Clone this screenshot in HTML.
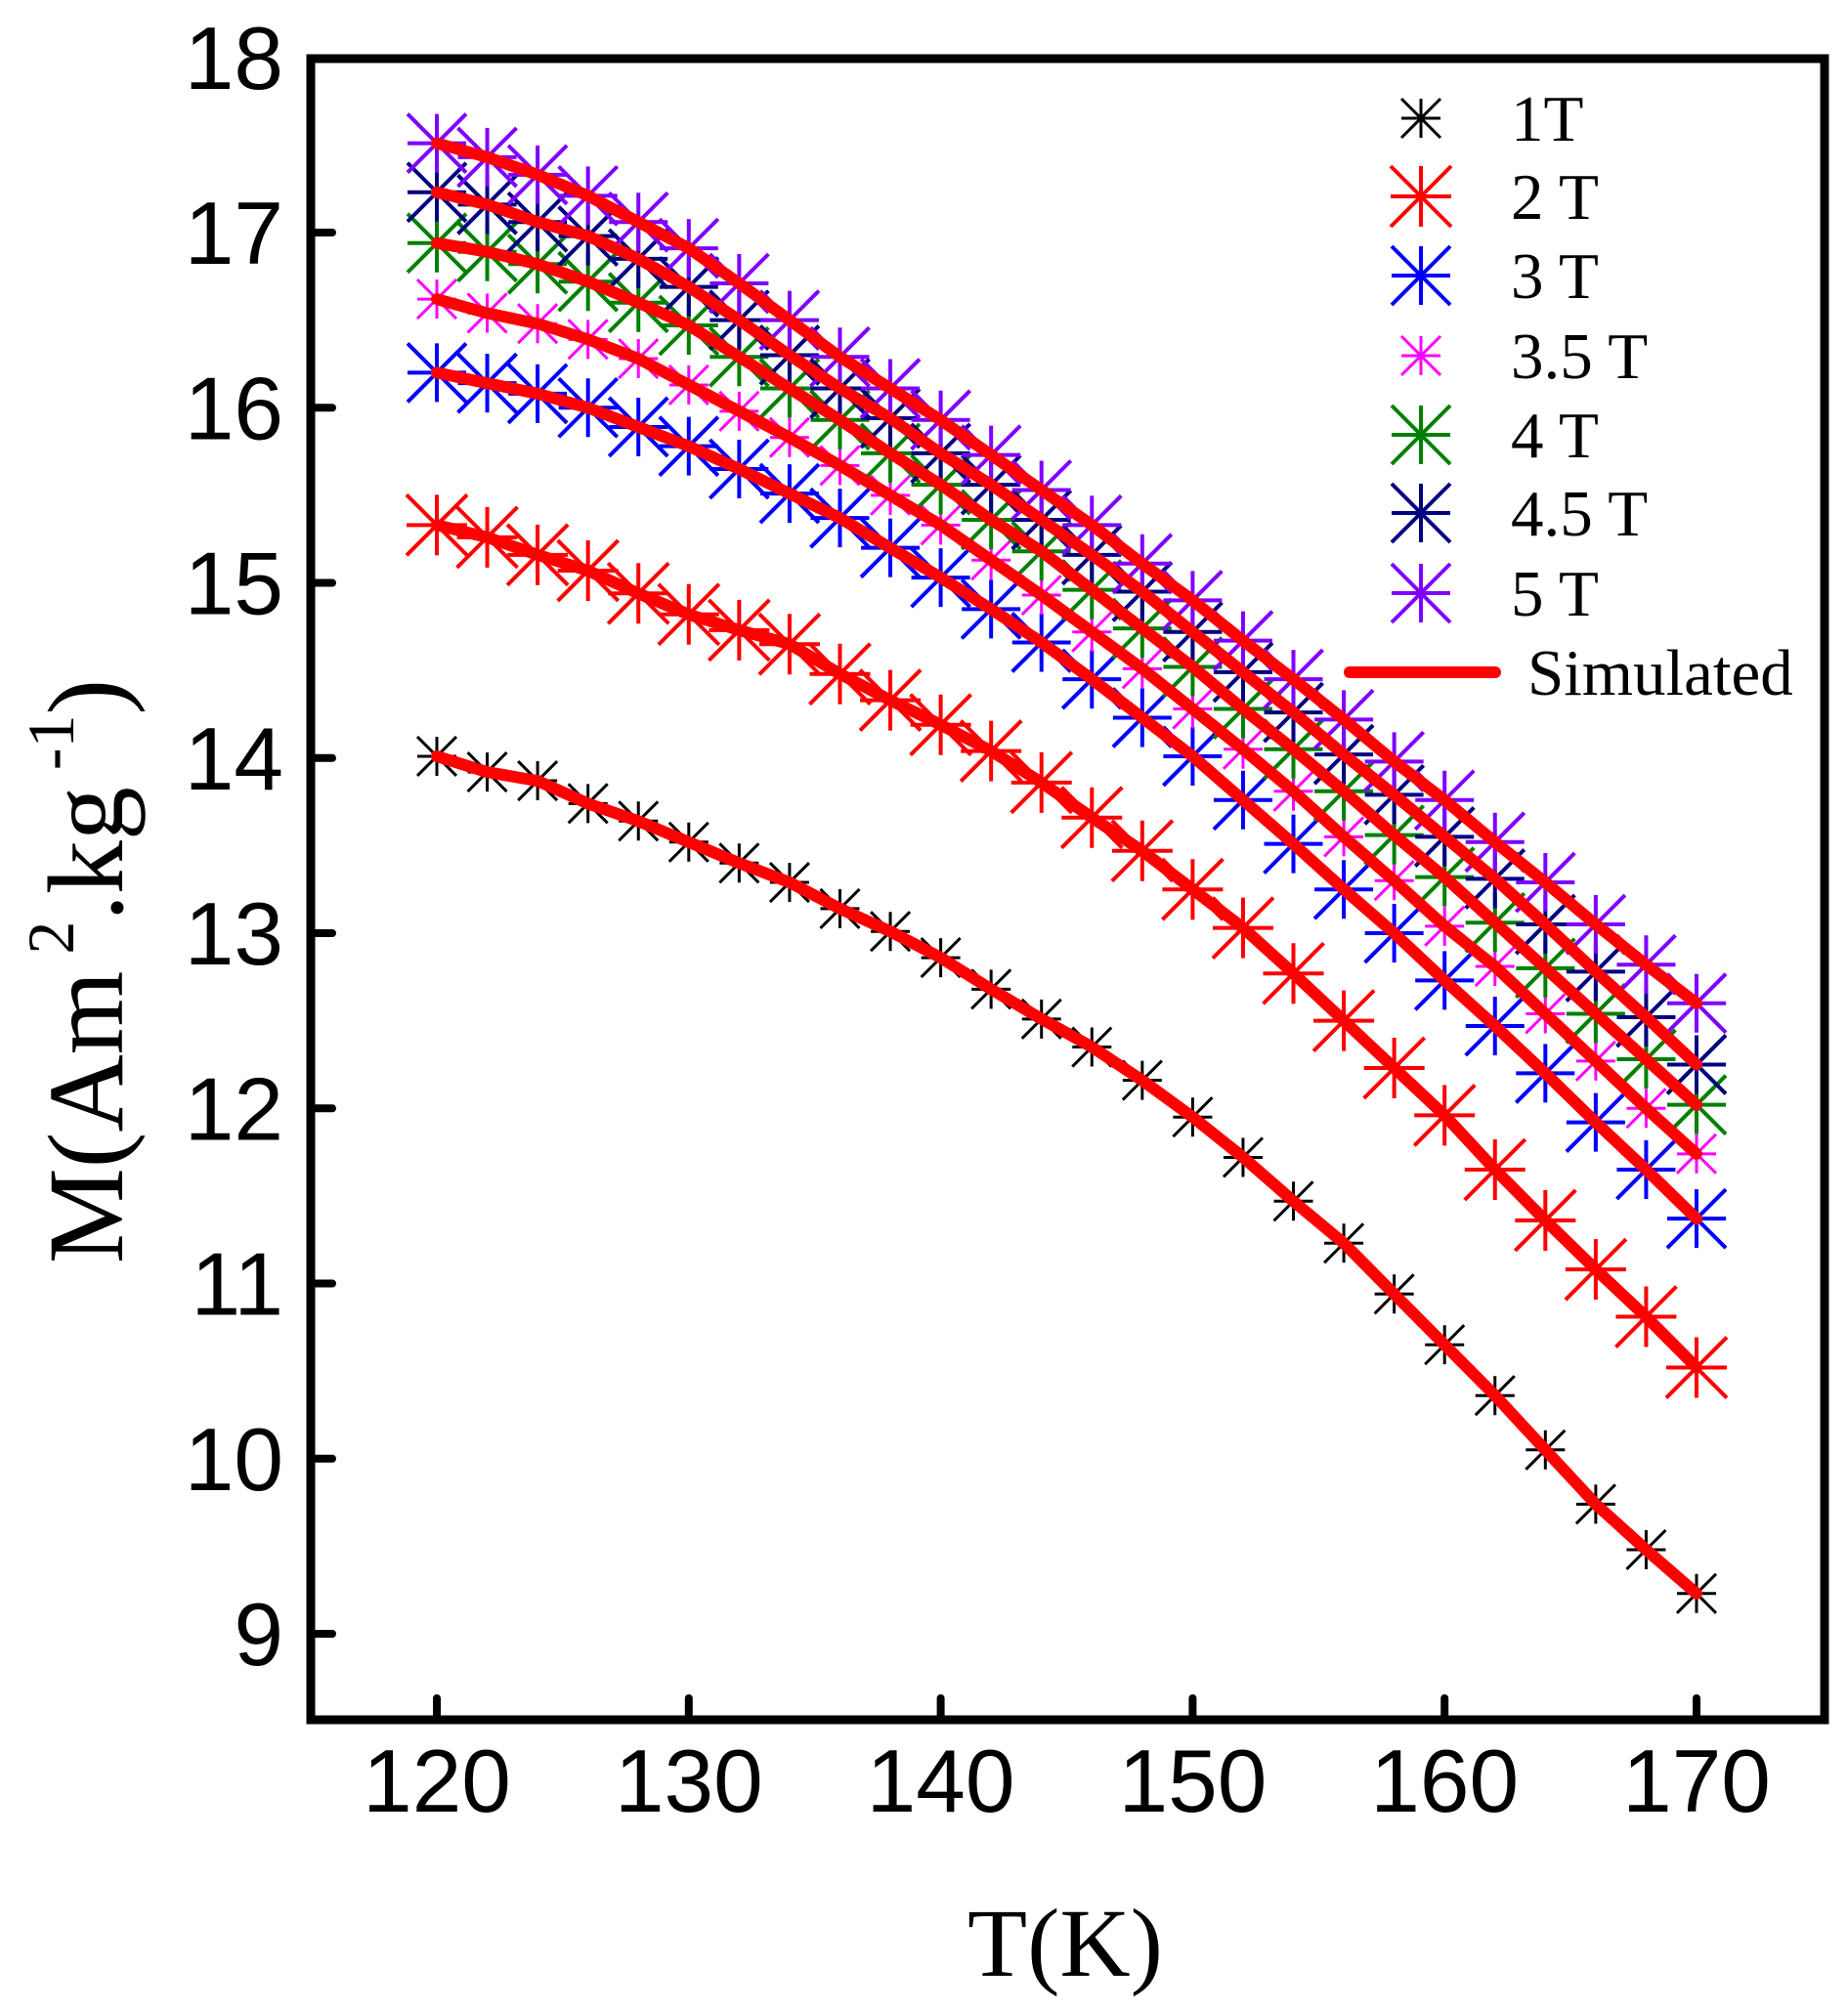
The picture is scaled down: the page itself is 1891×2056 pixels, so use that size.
<!DOCTYPE html>
<html><head><meta charset="utf-8"><style>
html,body{margin:0;padding:0;background:#fff;}
svg{display:block;}
</style></head><body>
<svg id="chart" width="1891" height="2056" viewBox="0 0 1891 2056" xmlns="http://www.w3.org/2000/svg">
<rect width="1891" height="2056" fill="#fff"/>
<g id="markers"></g>
<g id="lines"></g>
<g id="axes"></g>
<g id="legend"></g>
<text x="1090" y="2022" font-family="Liberation Serif, serif" font-size="100" text-anchor="middle">T(K)</text>
<text transform="translate(125,994) rotate(-90)" font-family="Liberation Serif, serif" font-size="110" text-anchor="middle">M(Am<tspan dy="-50" font-size="68"> 2</tspan><tspan dy="50">.kg</tspan><tspan dy="-50" font-size="68"> -1</tspan><tspan dy="50">)</tspan></text>
</svg>
<script>
const temps=[120,122,124,126,128,130,132,134,136,138,140,142,144,146,148,150,152,154,156,158,160,162,164,166,168,170];
const m1T=[14.01,13.92,13.87,13.74,13.64,13.52,13.40,13.29,13.14,13.01,12.86,12.68,12.51,12.35,12.16,11.95,11.72,11.47,11.23,10.94,10.65,10.36,10.05,9.74,9.48,9.23];
const m2T=[15.33,15.26,15.16,15.07,14.94,14.82,14.73,14.65,14.48,14.33,14.19,14.04,13.86,13.66,13.47,13.25,13.03,12.77,12.50,12.23,11.96,11.65,11.36,11.08,10.81,10.52];
const m3T=[16.2,16.14,16.08,16.00,15.89,15.78,15.65,15.51,15.37,15.20,15.03,14.85,14.66,14.45,14.23,14.01,13.76,13.51,13.25,13.00,12.73,12.47,12.20,11.92,11.65,11.37];
const m35T=[16.62,16.54,16.48,16.39,16.28,16.13,15.98,15.83,15.67,15.50,15.33,15.13,14.93,14.72,14.51,14.28,14.05,13.81,13.55,13.30,13.04,12.81,12.54,12.27,12.00,11.74];
const m4T=[16.94,16.89,16.82,16.72,16.60,16.47,16.29,16.11,15.93,15.74,15.56,15.36,15.18,14.96,14.74,14.52,14.28,14.05,13.81,13.56,13.32,13.06,12.80,12.54,12.28,12.02];
const m45T=[17.23,17.16,17.06,16.98,16.85,16.69,16.50,16.30,16.11,15.94,15.74,15.56,15.36,15.16,14.95,14.72,14.49,14.26,14.02,13.79,13.55,13.31,13.05,12.78,12.52,12.25];
const m5T=[17.51,17.43,17.33,17.21,17.06,16.91,16.71,16.50,16.29,16.11,15.93,15.73,15.53,15.33,15.11,14.90,14.67,14.45,14.22,13.98,13.76,13.52,13.29,13.05,12.82,12.60];
const seriesNames=["1T","2 T","3 T","3.5 T","4 T","4.5 T","5 T"];
const xTicks=[120,130,140,150,160,170];
const yTicks=[9,10,11,12,13,14,15,16,17,18];

const NS="http://www.w3.org/2000/svg";
const L=318,R=1867,T=60,B=1760;
function xs(v){return 447+(v-120)*(1736-447)/50;}
function ys(v){return 1672-(v-9)*(1672-238)/8;}
function mk(tag,attrs,parent){const e=document.createElementNS(NS,tag);for(const k in attrs)e.setAttribute(k,attrs[k]);parent.appendChild(e);return e;}
const series=[m1T,m2T,m3T,m35T,m4T,m45T,m5T];
const colors=["#000000","#ff0000","#0000ff","#ff00ff","#008000","#000080","#8000ff"];
const sizes=[20,31,30,20,30,30,30];
const widths=[3,4,4,3,4,4,4];
const mg=document.getElementById('markers');
const lg=document.getElementById('lines');
const ax=document.getElementById('axes');
const leg=document.getElementById('legend');
function star(g,cx,cy,s,c,w){
  const p=document.createElementNS(NS,'path');
  p.setAttribute('d',`M${cx-s},${cy}H${cx+s}M${cx},${cy-s}V${cy+s}M${cx-s},${cy-s}L${cx+s},${cy+s}M${cx-s},${cy+s}L${cx+s},${cy-s}`);
  p.setAttribute('stroke',c);p.setAttribute('stroke-width',w);p.setAttribute('fill','none');
  
  
  g.appendChild(p);
}
series.forEach((vals,si)=>{
  vals.forEach((v,i)=>star(mg,xs(temps[i]),ys(v),sizes[si],colors[si],widths[si]));
});
series.forEach((vals,si)=>{
  const p=document.createElementNS(NS,'path');
  p.setAttribute('d',vals.map((v,i)=>(i?'L':'M')+xs(temps[i]).toFixed(1)+','+ys(v).toFixed(1)).join(''));
  p.setAttribute('stroke','#ff0000');p.setAttribute('stroke-width',12);p.setAttribute('fill','none');
  p.setAttribute('stroke-linecap','round');p.setAttribute('stroke-linejoin','round');
  
  
  lg.appendChild(p);
});
const fr=mk('rect',{x:L,y:T,width:R-L,height:B-T,fill:'none',stroke:'#000','stroke-width':9},ax);


xTicks.forEach(t=>{
  const x=xs(t);
  const tk=mk('line',{x1:x,x2:x,y1:B,y2:B-22,stroke:'#000','stroke-width':8,'stroke-linecap':'round'},ax);
  
  
  const tx=mk('text',{x:x,y:1854,'font-family':'Liberation Sans, sans-serif','font-size':91,'text-anchor':'middle'},ax);
  tx.textContent=t;
  
  
});
yTicks.forEach(t=>{
  const y=ys(t);
  if(t<18){
    const tk=mk('line',{x1:L,x2:L+22,y1:y,y2:y,stroke:'#000','stroke-width':8,'stroke-linecap':'round'},ax);
    
    
  }
  const tx=mk('text',{x:290,y:y+32,'font-family':'Liberation Sans, sans-serif','font-size':91,'text-anchor':'end'},ax);
  tx.textContent=t;
  
  
});
const legY=[121,201,282,364,445,525,607];
seriesNames.forEach((n,i)=>{
  star(leg,1454,legY[i],sizes[i],colors[i],widths[i]);
  const tx=mk('text',{x:1546,y:legY[i]+23,'font-family':'Liberation Serif, serif','font-size':67},leg);
  tx.textContent=n;
  
  
});
const sl=mk('line',{x1:1381,x2:1530,y1:688,y2:688,stroke:'#ff0000','stroke-width':12,'stroke-linecap':'round'},leg);


const st=mk('text',{x:1563,y:711,'font-family':'Liberation Serif, serif','font-size':67},leg);
st.textContent='Simulated';


</script>
</body></html>
